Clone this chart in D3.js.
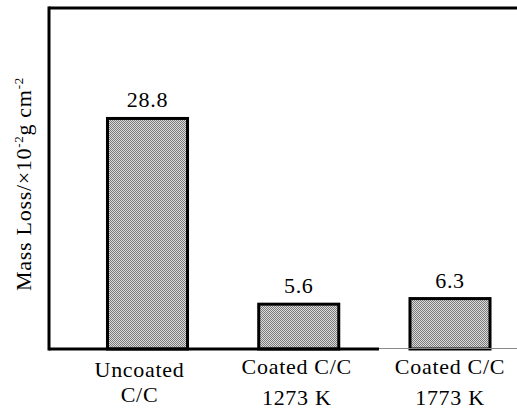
<!DOCTYPE html>
<html><head><meta charset="utf-8">
<script src="https://cdn.jsdelivr.net/npm/d3@7"></script>
<style>
svg text { font-family: "Liberation Serif", "Times New Roman", Times, Tinos, "Nimbus Roman" !important; }
</style>
</head>
<body style="margin:0;background:#fff">
<script>
const categories = ["Uncoated", "Coated C/C", "Coated C/C"];
const categoryLine2 = ["C/C", "1273 K", "1773 K"];
const values = [28.8, 5.6, 6.3];
const valueLabels = ["28.8", "5.6", "6.3"];

const W = 517, H = 409;
const svg = d3.select("body").append("svg").attr("width", W).attr("height", H);

const defs = svg.append("defs");
const pat = defs.append("pattern").attr("id","chk").attr("patternUnits","userSpaceOnUse")
  .attr("width",2).attr("height",2);
pat.append("rect").attr("width",2).attr("height",2).attr("fill","#dcdcdc");
pat.append("rect").attr("x",0).attr("y",0).attr("width",1).attr("height",1).attr("fill","#7a7a7a");
pat.append("rect").attr("x",1).attr("y",1).attr("width",1).attr("height",1).attr("fill","#7a7a7a");

const plotLeft = 49, plotTop = 8, plotBottom = 349;
const idx = categories.map((d,i)=>i);
const x = d3.scaleBand().domain(idx).range([71.875, 525.625]).paddingInner(0.451).paddingOuter(0.2255);
const y = d3.scaleLinear().domain([0, 42.6]).range([plotBottom, plotTop]);

const fs = 22;

svg.selectAll("rect.bar").data(values).enter().append("rect")
  .attr("class","bar")
  .attr("x",(d,i)=>x(i)+1.5).attr("width",x.bandwidth()-3)
  .attr("y",d=>y(d)).attr("height",d=>plotBottom-y(d))
  .attr("fill","url(#chk)").attr("stroke","#000").attr("stroke-width",3);

svg.append("line").attr("x1",plotLeft).attr("x2",plotLeft).attr("y1",plotTop-1.5).attr("y2",plotBottom+1.5)
  .attr("stroke","#000").attr("stroke-width",3);
svg.append("line").attr("x1",plotLeft).attr("x2",W).attr("y1",plotTop).attr("y2",plotTop)
  .attr("stroke","#000").attr("stroke-width",3);
svg.append("line").attr("x1",plotLeft).attr("x2",379).attr("y1",plotBottom).attr("y2",plotBottom)
  .attr("stroke","#000").attr("stroke-width",3);
svg.append("line").attr("x1",379).attr("x2",W).attr("y1",plotBottom-0.5).attr("y2",plotBottom-0.5)
  .attr("stroke","#888").attr("stroke-width",1);

function txt(sel){
  return sel.style("font-family",'"Liberation Serif"')
    .attr("fill","#000").attr("font-size",fs).attr("text-anchor","middle")
    .attr("letter-spacing",0.7);
}

txt(svg.selectAll("text.val").data(values).enter().append("text"))
  .attr("class","val")
  .attr("x",(d,i)=>x(i)+x.bandwidth()/2).attr("y",d=>y(d)-11)
  .text((d,i)=>valueLabels[i]);

const offs = [-8, -2, 0];
txt(svg.selectAll("text.cat1").data(categories).enter().append("text"))
  .attr("class","cat1")
  .attr("x",(d,i)=>x(i)+x.bandwidth()/2+offs[i]).attr("y",(d,i)=>i===0?377:374)
  .text(d=>d);
txt(svg.selectAll("text.cat2").data(categoryLine2).enter().append("text"))
  .attr("class","cat2")
  .attr("x",(d,i)=>x(i)+x.bandwidth()/2+offs[i]).attr("y",(d,i)=>i===0?402:405)
  .text(d=>d);

const yl = txt(svg.append("text")).attr("transform","translate(31,184) rotate(-90)");
yl.append("tspan").text("Mass Loss/×10");
yl.append("tspan").attr("font-size",13).attr("dy",-8).text("-2");
yl.append("tspan").attr("dy",8).text("g cm");
yl.append("tspan").attr("font-size",13).attr("dy",-8).text("-2");
</script>
</body></html>
